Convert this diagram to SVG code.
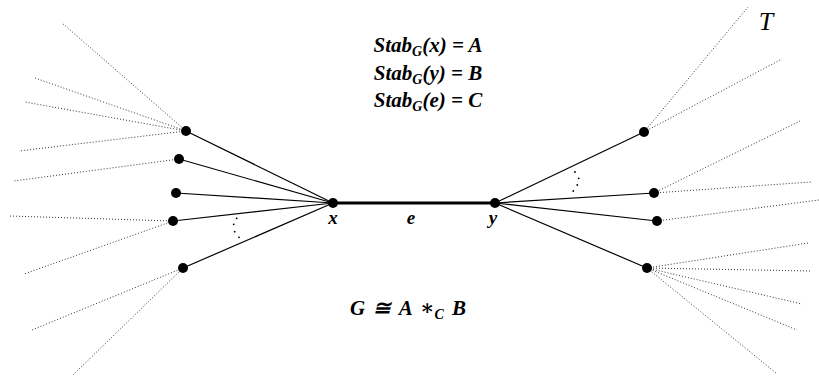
<svg xmlns="http://www.w3.org/2000/svg" width="819" height="376" viewBox="0 0 819 376">
<style>
.dot{stroke:#333;stroke-width:1;stroke-dasharray:1 2;fill:none}
.sol{stroke:#000;stroke-width:1.2;fill:none}
.math{font-family:"Liberation Serif","DejaVu Serif",serif;font-style:italic;font-weight:bold;fill:#000}
.nd{fill:#000}
</style>
<rect width="819" height="376" fill="#fff"/>
<g id="connectors">
<line class="dot" x1="186" y1="131" x2="62" y2="23"/>
<line class="dot" x1="186" y1="131" x2="35" y2="78"/>
<line class="dot" x1="186" y1="131" x2="25" y2="102"/>
<line class="dot" x1="186" y1="131" x2="19" y2="151"/>
<line class="dot" x1="179" y1="159" x2="14" y2="181"/>
<line class="dot" x1="173" y1="221" x2="9" y2="216"/>
<line class="dot" x1="173" y1="221" x2="24" y2="274"/>
<line class="dot" x1="183" y1="268" x2="32" y2="330"/>
<line class="dot" x1="183" y1="268" x2="73" y2="375"/>
<line class="dot" x1="644" y1="132" x2="748" y2="7"/>
<line class="dot" x1="644" y1="132" x2="782" y2="59"/>
<line class="dot" x1="654" y1="193" x2="800" y2="121"/>
<line class="dot" x1="654" y1="193" x2="811" y2="182"/>
<line class="dot" x1="657" y1="221" x2="819" y2="200"/>
<line class="dot" x1="647" y1="268" x2="808" y2="243"/>
<line class="dot" x1="647" y1="268" x2="811" y2="271"/>
<line class="dot" x1="647" y1="268" x2="802" y2="304"/>
<line class="dot" x1="647" y1="268" x2="797" y2="330"/>
<line class="dot" x1="647" y1="268" x2="776" y2="373"/>
<line class="sol" x1="333" y1="203" x2="186" y2="131"/>
<line class="sol" x1="333" y1="203" x2="179" y2="159"/>
<line class="sol" x1="333" y1="203" x2="176" y2="193"/>
<line class="sol" x1="333" y1="203" x2="173" y2="221"/>
<line class="sol" x1="333" y1="203" x2="183" y2="268"/>
<line class="sol" x1="495" y1="203" x2="644" y2="132"/>
<line class="sol" x1="495" y1="203" x2="654" y2="193"/>
<line class="sol" x1="495" y1="203" x2="657" y2="221"/>
<line class="sol" x1="495" y1="203" x2="647" y2="268"/>
<line x1="333" y1="203" x2="495" y2="203" stroke="#000" stroke-width="3"/>
<g fill="#000">
<circle cx="236.7" cy="218.3" r="0.9"/><circle cx="233.7" cy="224.3" r="0.9"/><circle cx="234.7" cy="231.7" r="0.9"/><circle cx="239" cy="237.3" r="0.9"/>
<circle cx="575" cy="172" r="0.9"/><circle cx="578.7" cy="178.3" r="0.9"/><circle cx="577.3" cy="185" r="0.9"/><circle cx="573.3" cy="191" r="0.9"/>
</g>
</g>
<g id="n1"><circle class="nd" cx="186" cy="131" r="5"/></g>
<g id="n2"><circle class="nd" cx="179" cy="159" r="5"/></g>
<g id="n3"><circle class="nd" cx="176" cy="193" r="5"/></g>
<g id="n4"><circle class="nd" cx="173" cy="221" r="5"/></g>
<g id="n5"><circle class="nd" cx="183" cy="268" r="5"/></g>
<g id="x"><circle class="nd" cx="333" cy="203" r="5"/><text class="math" x="333" y="224" font-size="19" text-anchor="middle">x</text></g>
<g id="y"><circle class="nd" cx="495" cy="203" r="5"/><text class="math" x="493" y="224" font-size="19" text-anchor="middle">y</text></g>
<g id="e"><text class="math" x="411" y="224" font-size="19" text-anchor="middle">e</text></g>
<g id="m1"><circle class="nd" cx="644" cy="132" r="5"/></g>
<g id="m2"><circle class="nd" cx="654" cy="193" r="5"/></g>
<g id="m3"><circle class="nd" cx="657" cy="221" r="5"/></g>
<g id="m4"><circle class="nd" cx="647" cy="268" r="5"/></g>
<g id="labels">
<text class="math" x="428" y="52" font-size="21" text-anchor="middle">Stab<tspan font-size="14" dy="4">G</tspan><tspan dy="-4">(x) = A</tspan></text>
<text class="math" x="428" y="80" font-size="21" text-anchor="middle">Stab<tspan font-size="14" dy="4">G</tspan><tspan dy="-4">(y) = B</tspan></text>
<text class="math" x="428" y="107" font-size="21" text-anchor="middle">Stab<tspan font-size="14" dy="4">G</tspan><tspan dy="-4">(e) = C</tspan></text>
<text class="math" x="408" y="315" font-size="21" text-anchor="middle" word-spacing="3">G ≅ A ∗<tspan font-size="14" dy="4">C</tspan><tspan dy="-4"> B</tspan></text>
<text x="766" y="30" font-size="26" font-family="Liberation Serif, DejaVu Serif, serif" font-style="italic" text-anchor="middle">T</text>
</g>
</svg>
